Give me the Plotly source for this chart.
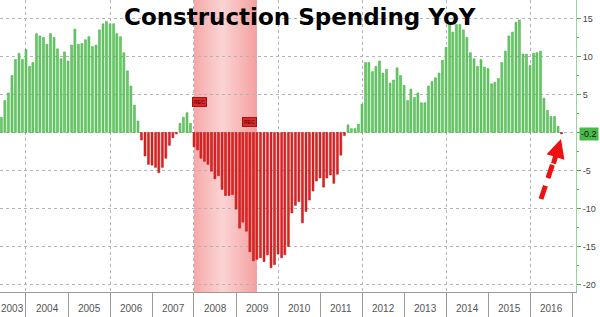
import plotly.graph_objects as go
import pandas as pd

# ---------------- data ----------------
START_MONTH = "2003-06-01"
YOY = [
    2.0, 4.2, 5.2, 7.5, 9.6, 10.4, 9.6, 10.9, 8.7, 9.2, 13.0, 12.7, 12.5, 11.6, 13.0, 12.5,
    11.0, 9.7, 10.6, 9.4, 11.5, 13.6, 11.6, 11.7, 12.2, 12.6, 11.3, 11.5, 13.5, 14.3, 14.6, 14.3,
    14.3, 13.0, 12.6, 10.5, 8.1, 6.1, 3.6, 1.5,
    -1.0, -3.1, -4.2, -4.3, -4.6, -5.3, -4.6, -3.4, -1.7, -0.7, -0.2,
    1.2, 2.0, 2.6, 1.2,
    -1.9, -2.3, -3.4, -3.8, -4.2, -5.1, -6.1, -5.7, -7.5, -8.3, -8.3, -8.2, -10.1, -12.6, -11.8,
    -13.0, -15.7, -16.9, -16.7, -16.5, -17.0, -16.1, -17.8, -17.4, -16.0, -16.5, -16.1, -15.0,
    -10.6, -9.6, -9.1, -11.9, -10.4, -8.9, -7.7, -6.4, -6.0, -7.2, -6.0, -5.6, -6.7, -5.5, -3.0, -0.4,
    1.0, 0.5, 0.5, 1.1, 3.7, 9.2, 9.2, 8.0, 8.7, 9.4, 7.8, 8.3, 6.5, 6.9, 8.5, 7.5, 6.2, 4.2, 5.7,
    4.6, 5.2, 3.9, 3.9, 6.1, 6.7, 7.2, 7.8, 9.5, 11.2, 14.2, 13.2, 14.2, 14.2, 13.5, 12.5, 10.5,
    9.7, 8.7, 9.6, 8.6, 8.4, 6.4, 6.6, 7.1, 9.2, 10.7, 12.7, 13.2, 14.5, 14.8, 10.3, 10.3, 8.8,
    10.4, 10.5, 10.7, 4.5, 2.9, 2.1, 2.1, 0.8, -0.2,
]
YEAR_LABELS = [str(y) for y in range(2003, 2017)]
GRID_YEARS = [2004, 2006, 2008, 2010, 2012, 2014, 2016]
SEP_YEARS = [2005, 2007, 2009, 2011, 2013, 2015, 2017]
Y_TICKS = [-20, -15, -10, -5, 0, 5, 10, 15]
Y_TICK_TEXT = ["-20", "-15", "-10", "-5", "", "5", "10", "15"]  # 0 hidden behind last-value tag
TITLE = "Construction Spending YoY"
LAST_LABEL = "-0.2"
REC_START, REC_END = "2008-01-01", "2009-06-30"
X_RANGE = ["2003-05-20", "2017-02-04"]
Y_RANGE = [-21.0, 17.43]

dates = pd.date_range(START_MONTH, periods=len(YOY), freq="MS")

# ---------------- style ----------------
W, H = 600, 317
ML, MR, MT, MB = 0, 24, 0, 25
PW, PH = W - ML - MR, H - MT - MB
GREEN, GREEN_EDGE = "#66cb66", "#43a843"
RED, RED_EDGE = "#e42222", "#b51010"
GRID = "#b4b4b4"
AXIS_GRAY = "#9a9a9a"
TICK_FONT = "Liberation Sans Narrow, Liberation Sans, Arial, sans-serif"


def px(xp, yp):
    return xp / PW, 1 - yp / PH


fig = go.Figure()
fig.add_trace(go.Bar(
    x=dates, y=YOY, width=1.5e9,
    marker=dict(color=[GREEN if v >= 0 else RED for v in YOY],
                line=dict(color=[GREEN_EDGE if v >= 0 else RED_EDGE for v in YOY], width=0.5)),
    hoverinfo="skip",
))

# recession shading: smooth cylinder-like gradient built from a few anchor colours
SHADE_ANCHORS = [(0.0, (246, 168, 168)), (0.45, (251, 212, 212)), (1.0, (245, 160, 160))]
N_STRIPS = 36


def shade_at(t):
    for (t0, c0), (t1, c1) in zip(SHADE_ANCHORS[:-1], SHADE_ANCHORS[1:]):
        if t0 <= t <= t1:
            f = (t - t0) / (t1 - t0)
            return "rgb(%d,%d,%d)" % tuple(round(a + (b - a) * f) for a, b in zip(c0, c1))
    return "rgb(%d,%d,%d)" % SHADE_ANCHORS[-1][1]


edges = pd.date_range(REC_START, REC_END, periods=N_STRIPS + 1)
for i in range(N_STRIPS):
    # each strip runs to the end of the band, later strips paint over -> no seams
    fig.add_shape(type="rect", xref="x", yref="paper", x0=edges[i], x1=edges[-1],
                  y0=0, y1=1, fillcolor=shade_at((i + 0.5) / N_STRIPS),
                  line=dict(width=0), layer="below")

# title
tx, ty = px(300, 17.5)
fig.add_annotation(xref="paper", yref="paper", x=tx, y=ty, xanchor="center", yanchor="middle",
                   text="<b>" + TITLE + "</b>", showarrow=False,
                   font=dict(family="DejaVu Sans, Verdana, sans-serif", size=23, color="#000"))

# year labels centred in each (visible) year
x_start = pd.Timestamp(X_RANGE[0])
for lab in YEAR_LABELS:
    y0 = max(pd.Timestamp(lab + "-01-01"), x_start)
    y1 = pd.Timestamp(str(int(lab) + 1) + "-01-01")
    mid = y0 + (y1 - y0) / 2
    fig.add_annotation(xref="x", yref="paper", x=mid, y=-(308.5 - PH) / PH,
                       xanchor="center", yanchor="middle", text=lab, showarrow=False,
                       font=dict(family=TICK_FONT, size=10, color="#555"))

# last value tag
fig.add_annotation(xref="paper", yref="y", x=1.0, xshift=3, y=YOY[-1], xanchor="left",
                   yanchor="middle", text=LAST_LABEL, showarrow=False,
                   bgcolor="#47bb47", borderpad=1,
                   font=dict(family=TICK_FONT, size=9, color="#111"))

# REC tags
for xd, yv in [("2008-02-15", 4.0), ("2009-05-01", 1.35)]:
    fig.add_annotation(xref="x", yref="y", x=xd, y=yv, text="REC", showarrow=False,
                       bgcolor="#d42a2a", bordercolor="#a51515", borderwidth=1, borderpad=1,
                       font=dict(family="Liberation Sans, Arial", size=5, color="#5a0000"))

# red dashed arrow
ax0, ay0 = px(541, 199)
ax1, ay1 = px(553, 163)
fig.add_shape(type="line", xref="paper", yref="paper", x0=ax0, y0=ay0, x1=ax1, y1=ay1,
              line=dict(color="#ee1111", width=5, dash="14px,8px"))
tipx, tipy = px(561, 139)
fig.add_annotation(xref="paper", yref="paper", x=tipx, y=tipy, ax=-8, ay=26, text="",
                   showarrow=True, arrowhead=2, arrowsize=0.75, arrowwidth=5,
                   arrowcolor="#ee1111")

fig.update_layout(
    width=W, height=H, margin=dict(l=ML, r=MR, t=MT, b=MB),
    paper_bgcolor="white", plot_bgcolor="white", showlegend=False,
    xaxis=dict(
        type="date", range=X_RANGE,
        tickvals=[f"{y}-01-01" for y in GRID_YEARS], ticktext=[""] * len(GRID_YEARS),
        showgrid=True, gridcolor=GRID, griddash="dot", gridwidth=1,
        ticks="outside", ticklen=25, tickcolor=AXIS_GRAY, tickwidth=1,
        showline=True, linecolor=AXIS_GRAY, linewidth=1, zeroline=False,
        minor=dict(tickvals=[f"{y}-01-01" for y in SEP_YEARS], ticks="outside",
                   ticklen=25, tickcolor=AXIS_GRAY, tickwidth=1, showgrid=False),
        automargin=False, fixedrange=True,
    ),
    yaxis=dict(
        side="right", range=Y_RANGE, tickvals=Y_TICKS, ticktext=Y_TICK_TEXT,
        showgrid=True, gridcolor=GRID, griddash="dot", gridwidth=1, zeroline=False,
        showline=True, linecolor="#9ad49a", linewidth=1,
        ticks="outside", ticklen=4, tickcolor="#4cae4c",
        tickfont=dict(family=TICK_FONT, size=9, color="#444"),
        minor=dict(dtick=2.5, ticks="outside", ticklen=2, tickcolor="#4cae4c", showgrid=False),
        automargin=False, fixedrange=True,
    ),
)

fig.write_html("out.html")
